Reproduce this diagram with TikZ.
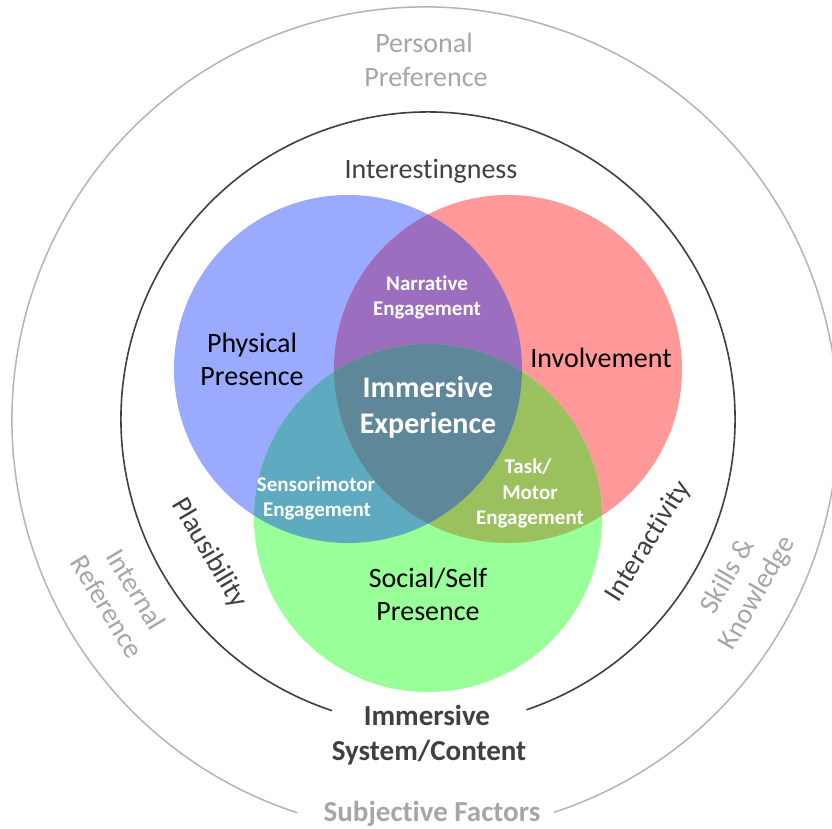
\documentclass[tikz,border=0pt]{standalone}
\usepackage{fontspec}
\setmainfont{Carlito}[Ligatures=NoCommon]
\definecolor{cblue}{RGB}{153,170,255}
\definecolor{cred}{RGB}{255,153,153}
\definecolor{cgreen}{RGB}{153,255,153}
\definecolor{cpurple}{RGB}{155,110,191}
\definecolor{cteal}{RGB}{94,170,192}
\definecolor{colive}{RGB}{155,192,94}
\definecolor{cslate}{RGB}{94,136,153}
\definecolor{ringgray}{RGB}{180,180,180}
\definecolor{softgray}{RGB}{166,166,166}
\definecolor{darktext}{RGB}{64,64,64}
\begin{document}
\begin{tikzpicture}[x=1pt,y=-1pt,
  every node/.style={inner sep=0pt},
  lbl/.style={anchor=base, font=\fontsize{28}{34}\selectfont, text=black},
  darklbl/.style={lbl, text=darktext},
  greylbl/.style={lbl, text=softgray},
  bottomlbl/.style={anchor=base, font=\fontsize{29}{35}\bfseries\selectfont, text=darktext},
  corelbl/.style={anchor=base, font=\fontsize{30}{36}\bfseries\selectfont, text=white},
  smalllbl/.style={anchor=base, font=\fontsize{21}{26}\bfseries\selectfont, text=white},
  arclbl/.style={anchor=center, align=center, font=\fontsize{28}{34}\selectfont},
  venn/.style={radius=174}]
\useasboundingbox (0,0) rectangle (832,828);
\fill[white] (0,0) rectangle (832,828);

% ring centres
\coordinate (outerc) at (425,420);
\coordinate (innerc) at (428,419);

% outer ring, open at the bottom for its caption
\draw[ringgray, line width=1.5pt] (outerc) ++(71.8:413) arc[start angle=71.8, end angle=-252, radius=413];
% inner ring, open at the bottom for its caption
\draw[darktext, line width=1.6pt] (innerc) ++(71.3:307) arc[start angle=71.3, end angle=-251.8, radius=307];

% Venn circles
\coordinate (B) at (348,369);
\coordinate (R) at (508,369);
\coordinate (G) at (428,518);
\fill[cblue] (B) circle[venn];
\fill[cred] (R) circle[venn];
\fill[cgreen] (G) circle[venn];
\begin{scope}
  \clip (B) circle[venn];
  \fill[cpurple] (R) circle[venn];
  \fill[cteal] (G) circle[venn];
\end{scope}
\begin{scope}
  \clip (R) circle[venn];
  \fill[colive] (G) circle[venn];
\end{scope}
\begin{scope}
  \clip (B) circle[venn];
  \clip (R) circle[venn];
  \fill[cslate] (G) circle[venn];
\end{scope}

% outer ring labels
\node[greylbl] (pers1) at (424,52) {Personal};
\node[greylbl] (pers2) at (426,86) {Preference};
\node[arclbl, text=softgray, rotate=-59] (intref) at (121.75,598) {Internal\\Reference};
\node[arclbl, text=softgray, rotate=60] (skills) at (743.25,585) {Skills \&\\Knowledge};
\node[anchor=base, font=\fontsize{29}{35}\bfseries\selectfont, text=softgray] (subj) at (432,821) {Subjective Factors};

% inner ring labels
\node[darklbl] (interest) at (431,178) {Interestingness};
\node[arclbl, text=darktext, rotate=-59.5] (plaus) at (209,553) {Plausibility};
\node[arclbl, text=darktext, rotate=58] (interact) at (648.5,541.5) {Interactivity};
\node[bottomlbl] (sys1) at (427,725) {Immersive};
\node[bottomlbl] (sys2) at (429,760) {System/Content};

% Venn labels
\node[lbl] (phys1) at (252,352) {Physical};
\node[lbl] (phys2) at (252,385) {Presence};
\node[lbl] (invol) at (601,367) {Involvement};
\node[lbl] (soc1) at (428,587) {Social/Self};
\node[lbl] (soc2) at (428,620) {Presence};
\node[corelbl] (imm1) at (428,397) {Immersive};
\node[corelbl] (imm2) at (428,433) {Experience};
\node[smalllbl] (narr1) at (427,290) {Narrative};
\node[smalllbl] (narr2) at (427,315.5) {Engagement};
\node[smalllbl] (sens1) at (316,491.5) {Sensorimotor};
\node[smalllbl] (sens2) at (317,516.5) {Engagement};
\node[smalllbl] (task1) at (528,473.5) {Task/};
\node[smalllbl] (task2) at (530,499.5) {Motor};
\node[smalllbl] (task3) at (530,524) {Engagement};
\end{tikzpicture}
\end{document}
